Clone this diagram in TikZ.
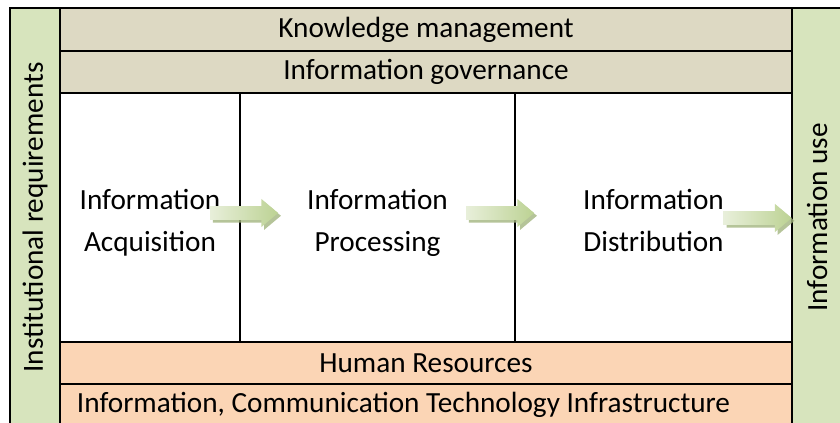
\documentclass[tikz,border=0pt]{standalone}
\usepackage{fontspec}
\setmainfont{Carlito}
\usepackage{tikz}
\usetikzlibrary{shapes,shadows,arrows}

\definecolor{bandtan}{HTML}{DDD9C3}
\definecolor{sidegreen}{HTML}{D7E4BD}
\definecolor{basepeach}{HTML}{FBD5B5}
\definecolor{arrowlight}{HTML}{E8EFDA}
\definecolor{arrowdark}{HTML}{BCD293}
\definecolor{arrowshadow}{HTML}{A3B57F}

\begin{document}
\begin{tikzpicture}[font=\fontsize{20.8}{30}\selectfont,
	cell/.style={draw, rectangle, line width=1pt, inner sep=0pt},
	flow/.style={single arrow, single arrow head extend=0.18cm, single arrow tip angle=80, minimum height=1.7cm, inner xsep=0pt, inner ysep=0.165cm, left color=arrowlight, right color=arrowdark, drop shadow={shadow xshift=0.07cm, shadow yshift=-0.07cm, fill=arrowshadow, opacity=0.8}}]
	\useasboundingbox (0cm,0cm) rectangle (21cm,10.575cm);
	% side columns
	\node [cell, fill=sidegreen, rotate=90, minimum width=10.475cm, minimum height=1.25cm] (institutional) at (0.875cm,5.1375cm) {Institutional requirements};
	\node [cell, fill=sidegreen, rotate=90, minimum width=10.475cm, minimum height=1.25cm] (use) at (20.425cm,5.1375cm) {Information use};
	% management bands
	\node [cell, fill=bandtan, minimum width=18.3cm, minimum height=1.075cm] (knowledge) at (10.65cm,9.8375cm) {Knowledge management};
	\node [cell, fill=bandtan, minimum width=18.3cm, minimum height=1.05cm] (governance) at (10.65cm,8.775cm) {Information governance};
	% process columns
	\node [cell, align=center, minimum width=4.5cm, minimum height=6.225cm] (acquisition) at (3.75cm,5.1375cm) {\rule{0pt}{27pt}Information\\Acquisition\strut};
	\node [cell, align=center, minimum width=6.875cm, minimum height=6.225cm] (processing) at (9.4375cm,5.1375cm) {\rule{0pt}{27pt}Information\\Processing\strut};
	\node [cell, align=center, minimum width=6.925cm, minimum height=6.225cm] (distribution) at (16.3375cm,5.1375cm) {\rule{0pt}{27pt}Information\\Distribution\strut};
	% foundation bands
	\node [cell, fill=basepeach, minimum width=18.3cm, minimum height=1.05cm] (human) at (10.65cm,1.5cm) {Human Resources};
	\node [cell, fill=basepeach, minimum width=18.3cm, minimum height=1.05cm] (ict) at (10.65cm,0.45cm) {\makebox[17.45cm][l]{Information, Communication Technology Infrastructure}};
	% flow arrows
	\node [flow] (toprocessing) at (6.0cm,5.25cm) {};
	\node [flow] (todistribution) at (12.4cm,5.25cm) {};
	\node [flow] (touse) at (18.84cm,5.125cm) {};
\end{tikzpicture}
\end{document}
